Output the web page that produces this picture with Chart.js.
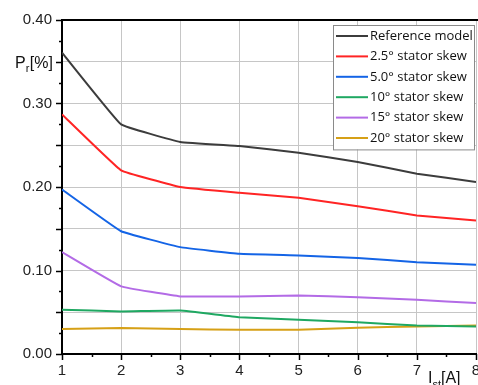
<!DOCTYPE html>
<html>
<head>
<meta charset="utf-8">
<script src="https://cdn.jsdelivr.net/npm/chart.js@4.4.1/dist/chart.umd.min.js"></script>
<style>
  html, body { margin: 0; padding: 0; background: #fff; }
  canvas { display: block; }
</style>
</head>
<body>
<canvas id="prChart" width="478" height="385"></canvas>
<script>
// Dados
const currents = [1, 2, 3, 4, 5, 6, 7, 8];
const seriesNames = ['Reference model', '2.5° stator skew', '5.0° stator skew', '10° stator skew', '15° stator skew', '20° stator skew'];
const referenceModel = [0.361, 0.275, 0.254, 0.249, 0.241, 0.230, 0.216, 0.206];
const skew25 = [0.287, 0.220, 0.200, 0.193, 0.187, 0.177, 0.166, 0.160];
const skew50 = [0.197, 0.147, 0.128, 0.120, 0.118, 0.115, 0.110, 0.107];
const skew10 = [0.053, 0.051, 0.052, 0.044, 0.041, 0.038, 0.034, 0.033];
const skew15 = [0.122, 0.081, 0.069, 0.069, 0.070, 0.068, 0.065, 0.061];
const skew20 = [0.030, 0.031, 0.030, 0.029, 0.029, 0.0315, 0.033, 0.034];
const yTicks = [0.00, 0.10, 0.20, 0.30, 0.40];

const seriesValues = [referenceModel, skew25, skew50, skew10, skew15, skew20];
const seriesColors = ['#3c3c3c', '#ff2424', '#1464e6', '#1fa862', '#b36be6', '#d6a016'];

const FONT = "'Liberation Sans', Arial, sans-serif";

// Plugin: eixos, marcas, borda, legenda e títulos dos eixos
const decorPlugin = {
    id: 'decor',
    afterDraw(chart) {
        const ctx = chart.ctx;
        const area = chart.chartArea;
        const xs = chart.scales.x;
        const ys = chart.scales.y;
        ctx.save();

        // borda superior
        ctx.strokeStyle = '#000';
        ctx.lineWidth = 2;
        ctx.beginPath();
        ctx.moveTo(area.left - 1, area.top);
        ctx.lineTo(area.right + 2, area.top);
        ctx.stroke();

        // marcas do eixo y
        ctx.lineWidth = 1.5;
        for (let i = 0; i <= 16; i++) {
            const v = i * 0.025;
            const py = Math.round(ys.getPixelForValue(v)) + 0.5;
            const len = i % 2 === 0 ? 6 : 3;
            ctx.beginPath();
            ctx.moveTo(area.left - len, py);
            ctx.lineTo(area.left, py);
            ctx.stroke();
        }
        // marcas do eixo x
        for (let i = 0; i <= 14; i++) {
            const v = 1 + i * 0.5;
            const px = Math.round(xs.getPixelForValue(v)) + 0.5;
            const len = i % 2 === 0 ? 6 : 3;
            ctx.beginPath();
            ctx.moveTo(px, area.bottom);
            ctx.lineTo(px, area.bottom + len);
            ctx.stroke();
        }

        // título do eixo y: P_r[%]
        ctx.fillStyle = '#111';
        ctx.textBaseline = 'alphabetic';
        ctx.textAlign = 'left';
        const yLab = ys.getPixelForValue(0.35) + 6;
        let tx = 15;
        ctx.font = '16px ' + FONT;
        ctx.fillText('P', tx, yLab);
        tx += ctx.measureText('P').width;
        ctx.font = '11px ' + FONT;
        ctx.fillText('r', tx, yLab + 4);
        tx += ctx.measureText('r').width + 0.5;
        ctx.font = '16px ' + FONT;
        ctx.fillText('[%]', tx, yLab);

        // título do eixo x: I_st[A]
        let bx = 428;
        const bY = 383;
        ctx.font = '16px ' + FONT;
        ctx.fillText('I', bx, bY);
        bx += ctx.measureText('I').width;
        ctx.font = '11px ' + FONT;
        ctx.fillText('st', bx, bY + 5);
        bx += ctx.measureText('st').width;
        ctx.font = '16px ' + FONT;
        ctx.fillText('[A]', bx, bY);

        // legenda
        const lw = 141, rowH = 20.4;
        const lx = area.right - lw - 2;
        const ly = area.top + 5;
        const lh = rowH * chart.data.datasets.length + 2;
        ctx.fillStyle = '#fff';
        ctx.fillRect(lx, ly, lw, lh);
        ctx.strokeStyle = '#8a8a8a';
        ctx.lineWidth = 1;
        ctx.strokeRect(lx + 0.5, ly + 0.5, lw, lh);
        ctx.font = "13px 'Open Sans', sans-serif";
        ctx.textBaseline = 'middle';
        chart.data.datasets.forEach((ds, i) => {
            const cy = ly + 11 + i * rowH;
            ctx.strokeStyle = ds.borderColor;
            ctx.lineWidth = 2;
            ctx.beginPath();
            ctx.moveTo(lx + 3, cy);
            ctx.lineTo(lx + 35, cy);
            ctx.stroke();
            ctx.fillStyle = '#111';
            ctx.fillText(ds.label, lx + 37, cy);
        });

        ctx.restore();
    }
};

const ctx = document.getElementById('prChart').getContext('2d');
new Chart(ctx, {
    type: 'line',
    data: {
        labels: currents,
        datasets: seriesNames.map((name, i) => ({
            label: name,
            data: currents.map((c, j) => ({ x: c, y: seriesValues[i][j] })),
            borderColor: seriesColors[i],
            backgroundColor: seriesColors[i],
            borderWidth: 2,
            pointRadius: 0,
            tension: 0.08,
            fill: false
        }))
    },
    options: {
        responsive: false,
        animation: false,
        layout: { padding: { top: 20, right: 2, left: 0, bottom: 0 } },
        plugins: {
            legend: { display: false },
            tooltip: { enabled: false }
        },
        scales: {
            x: {
                type: 'linear',
                min: 1,
                max: 8,
                afterFit(scale) {
                    scale.height = 31;
                    scale.paddingLeft = 0;
                    scale.paddingRight = 0;
                },
                ticks: {
                    stepSize: 1,
                    padding: 8,
                    color: '#222',
                    font: { family: FONT, size: 15 },
                    maxRotation: 0
                },
                grid: { color: '#c6c6c6', lineWidth: 1, drawTicks: false },
                border: { display: true, color: '#000', width: 2 }
            },
            y: {
                min: 0,
                max: 0.4,
                afterFit(scale) {
                    scale.width = 62;
                },
                afterBuildTicks(scale) {
                    scale.ticks = [];
                    for (let i = 0; i <= 8; i++) scale.ticks.push({ value: i * 0.05 });
                },
                ticks: {
                    padding: 10,
                    color: '#222',
                    font: { family: FONT, size: 15 },
                    callback: function (value) {
                        const hit = yTicks.find(t => Math.abs(t - value) < 1e-6);
                        return hit === undefined ? '' : hit.toFixed(2);
                    }
                },
                grid: { color: '#c6c6c6', lineWidth: 1, drawTicks: false },
                border: { display: true, color: '#000', width: 2 }
            }
        }
    },
    plugins: [decorPlugin]
});
</script>
</body>
</html>
